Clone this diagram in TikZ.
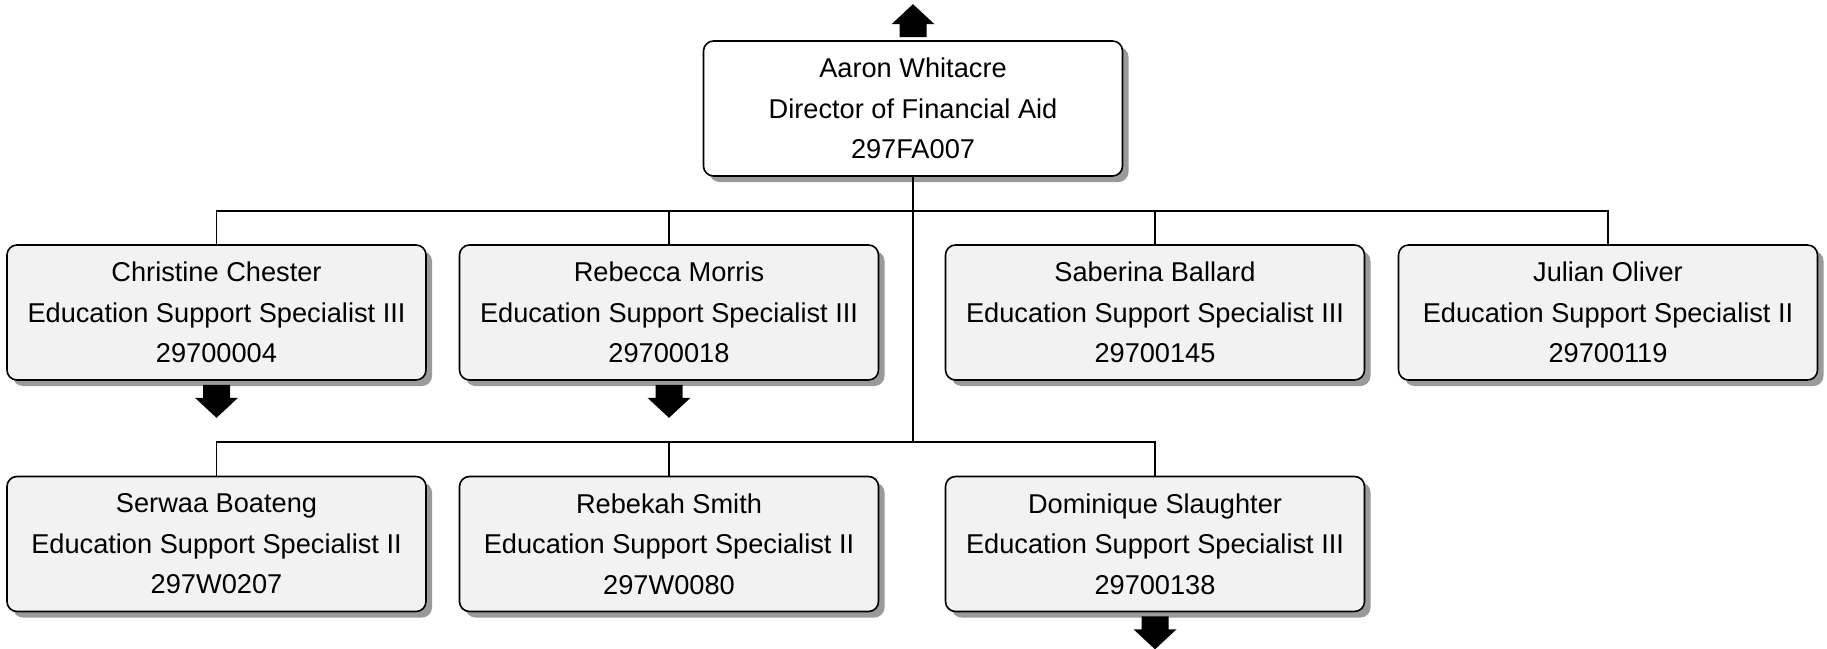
\documentclass[tikz,border=0pt]{standalone}
\usepackage{fontspec}
\setmainfont{Liberation Sans}
\usetikzlibrary{shadows,calc}
\definecolor{boxgray}{HTML}{F2F2F2}
\definecolor{shadowgray}{HTML}{9A9A9A}
\tikzset{
  person/.style={draw=black, line width=1.6pt, rounded corners=10pt,
    minimum width=419pt, minimum height=135pt, inner sep=0pt,
    align=center, font=\fontsize{27.2}{40.5}\selectfont,
    drop shadow={shadow xshift=6pt, shadow yshift=-6pt, fill=shadowgray, opacity=1}},
  childbox/.style={person, fill=boxgray},
  headbox/.style={person, fill=white},
  conn/.style={draw=black, line width=1.4pt},
  uparrow/.pic={\fill[black] (-13.5,-3) -- (-13.5,-16) -- (-21.5,-16) -- (0,-36) -- (21.5,-16) -- (13.5,-16) -- (13.5,-3) -- cycle;},
  downarrow/.pic={\fill[black] (-13.5,4) -- (-13.5,17) -- (-21.5,17) -- (0,37) -- (21.5,17) -- (13.5,17) -- (13.5,4) -- cycle;}
}
\begin{document}
\begin{tikzpicture}[x=1pt,y=-1pt]
\useasboundingbox (0,0) rectangle (1827,648);
\node[headbox] (top) at (913,108.5) {Aaron Whitacre\\Director of Financial Aid\\297FA007};
\node[childbox] (c1) at (216.5,312.5) {Christine Chester\\Education Support Specialist III\\29700004};
\node[childbox] (c2) at (669,312.5) {Rebecca Morris\\Education Support Specialist III\\29700018};
\node[childbox] (c3) at (1155,312.5) {Saberina Ballard\\Education Support Specialist III\\29700145};
\node[childbox] (c4) at (1608,312.5) {Julian Oliver\\Education Support Specialist II\\29700119};
\node[childbox] (d1) at (216.5,544) {Serwaa Boateng\\Education Support Specialist II\\297W0207};
\node[childbox] (d2) at (669,544) {Rebekah Smith\\Education Support Specialist II\\297W0080};
\node[childbox] (d3) at (1155,544) {Dominique Slaughter\\Education Support Specialist III\\29700138};
\coordinate (bus1) at (0,211);
\coordinate (bus2) at (0,442);
\draw[conn] (top.south) -- (top.south |- bus2);
\draw[conn] (c1.north) -- (c1.north |- bus1) -| (c4.north);
\draw[conn] (c2.north) -- (c2.north |- bus1);
\draw[conn] (c3.north) -- (c3.north |- bus1);
\draw[conn] (d1.north) -- (d1.north |- bus2) -| (d3.north);
\draw[conn] (d2.north) -- (d2.north |- bus2);
\pic at (top.north) {uparrow};
\pic at (c1.south) {downarrow};
\pic at (c2.south) {downarrow};
\pic at (d3.south) {downarrow};
\end{tikzpicture}
\end{document}
